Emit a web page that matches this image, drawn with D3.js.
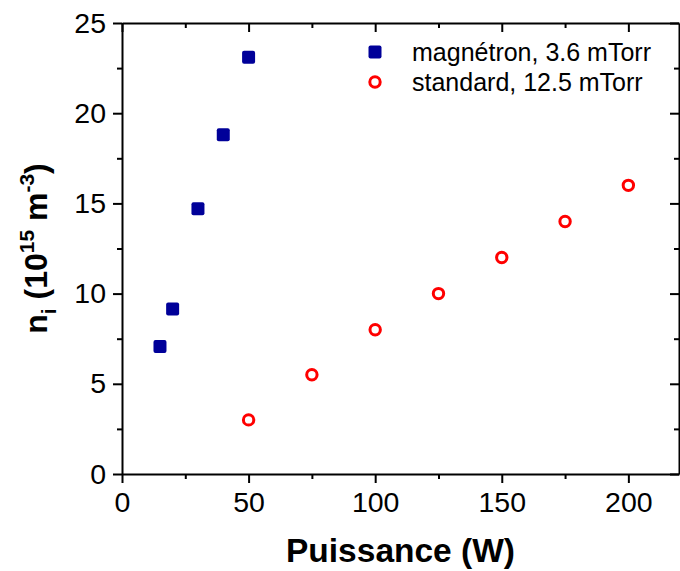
<!DOCTYPE html>
<html>
<head>
<meta charset="utf-8">
<script src="https://cdn.jsdelivr.net/npm/d3@7"></script>
<style>
  body { margin: 0; background: #fff; }
  svg { display: block; }
  svg text { font-family: Arial, "Liberation Sans", sans-serif; }
</style>
</head>
<body>
<div id="chart"></div>
<script>
// magnetron series, 3.6 mTorr
const magPower = [15, 20, 30, 40, 50];
const magDensity = [7.07, 9.14, 14.7, 18.8, 23.1];
// standard series, 12.5 mTorr
const stdPower = [50, 75, 100, 125, 150, 175, 200];
const stdDensity = [3.0, 5.5, 8.0, 10.0, 12.0, 14.0, 16.0];

const xMajor = [0, 50, 100, 150, 200];
const xMinor = [25, 75, 125, 175];
const yMajor = [0, 5, 10, 15, 20, 25];
const yMinor = [2.5, 7.5, 12.5, 17.5, 22.5];

const legendLabels = ["magnétron, 3.6 mTorr", "standard, 12.5 mTorr"];

const width = 680, height = 571;
const margin = {top: 23, right: 1, bottom: 97, left: 122};
const blue = "#000099", red = "#ff0000";

const svg = d3.select("#chart").append("svg")
  .attr("width", width)
  .attr("height", height);

const x = d3.scaleLinear().domain([0, 220]).range([margin.left, width - margin.right]);
const y = d3.scaleLinear().domain([0, 25]).range([height - margin.bottom, margin.top]);

let styleAxis = function(g) {
  g.attr("font-family", null);
  g.select(".domain").attr("stroke", "#000").attr("stroke-width", 2);
  g.selectAll(".tick line").attr("stroke", "#000").attr("stroke-width", 2);
  g.selectAll("text").attr("fill", "#000").style("font-size", "28.5px");
  return g;
};

// bottom axis
svg.append("g")
  .attr("transform", `translate(0,${y(0)})`)
  .call(d3.axisBottom(x).tickValues(xMajor).tickSize(9).tickSizeOuter(0).tickPadding(9))
  .call(styleAxis);
svg.append("g")
  .attr("transform", `translate(0,${y(0)})`)
  .call(d3.axisBottom(x).tickValues(xMinor).tickSize(5).tickFormat(""))
  .call(styleAxis)
  .select(".domain").remove();

// top axis (inward ticks)
svg.append("g")
  .attr("transform", `translate(0,${y(25)})`)
  .call(d3.axisBottom(x).tickValues(xMajor).tickSize(9).tickSizeOuter(0).tickFormat(""))
  .call(styleAxis);
svg.append("g")
  .attr("transform", `translate(0,${y(25)})`)
  .call(d3.axisBottom(x).tickValues(xMinor).tickSize(5).tickFormat(""))
  .call(styleAxis)
  .select(".domain").remove();

// left axis
svg.append("g")
  .attr("transform", `translate(${x(0)},0)`)
  .call(d3.axisLeft(y).tickValues(yMajor).tickSize(9).tickSizeOuter(0).tickPadding(7))
  .call(styleAxis);
svg.append("g")
  .attr("transform", `translate(${x(0)},0)`)
  .call(d3.axisLeft(y).tickValues(yMinor).tickSize(5).tickFormat(""))
  .call(styleAxis)
  .select(".domain").remove();

// right axis (inward ticks)
svg.append("g")
  .attr("transform", `translate(${x(220)},0)`)
  .call(d3.axisLeft(y).tickValues(yMajor).tickSize(9).tickSizeOuter(0).tickFormat(""))
  .call(styleAxis);
svg.append("g")
  .attr("transform", `translate(${x(220)},0)`)
  .call(d3.axisLeft(y).tickValues(yMinor).tickSize(5).tickFormat(""))
  .call(styleAxis)
  .select(".domain").remove();

// data
const sq = 13;
const cr = 5.2;
svg.append("g").selectAll("rect")
  .data(magPower.map((p, i) => [p, magDensity[i]]))
  .join("rect")
  .attr("x", d => x(d[0]) - sq / 2)
  .attr("y", d => y(d[1]) - sq / 2)
  .attr("width", sq)
  .attr("height", sq)
  .attr("rx", 2)
  .attr("fill", blue);

svg.append("g").selectAll("circle")
  .data(stdPower.map((p, i) => [p, stdDensity[i]]))
  .join("circle")
  .attr("cx", d => x(d[0]))
  .attr("cy", d => y(d[1]))
  .attr("r", cr)
  .attr("fill", "none")
  .attr("stroke", red)
  .attr("stroke-width", 3);

// legend
const legend = svg.append("g").attr("transform", "translate(375,0)");
legend.append("rect")
  .attr("x", -sq / 2).attr("y", 52 - sq / 2)
  .attr("width", sq).attr("height", sq).attr("rx", 2)
  .attr("fill", blue);
legend.append("circle")
  .attr("cx", 0).attr("cy", 82).attr("r", cr)
  .attr("fill", "none").attr("stroke", red).attr("stroke-width", 3);
legend.selectAll("text.lbl")
  .data(legendLabels)
  .join("text")
  .attr("class", "lbl")
  .attr("x", 37)
  .attr("y", (d, i) => 52 + i * 30)
  .attr("dy", "0.35em")
  .style("font-size", "25px")
  .text(d => d);

// axis titles
svg.append("text")
  .attr("x", (x(0) + x(220)) / 2)
  .attr("y", 562)
  .attr("text-anchor", "middle")
  .style("font-size", "33.5px")
  .style("font-weight", "bold")
  .text("Puissance (W)");

const yt = svg.append("text")
  .attr("transform", `translate(47,${(y(0) + y(25)) / 2}) rotate(-90)`)
  .attr("text-anchor", "middle")
  .style("font-size", "32px")
  .style("font-weight", "bold");
yt.append("tspan").text("n");
yt.append("tspan").attr("dy", 9).style("font-size", "21px").text("i");
yt.append("tspan").attr("dy", -9).text(" (10");
yt.append("tspan").attr("dy", -13).style("font-size", "21px").text("15");
yt.append("tspan").attr("dy", 13).text(" m");
yt.append("tspan").attr("dy", -13).style("font-size", "21px").text("-3");
yt.append("tspan").attr("dy", 13).text(")");
</script>
</body>
</html>
